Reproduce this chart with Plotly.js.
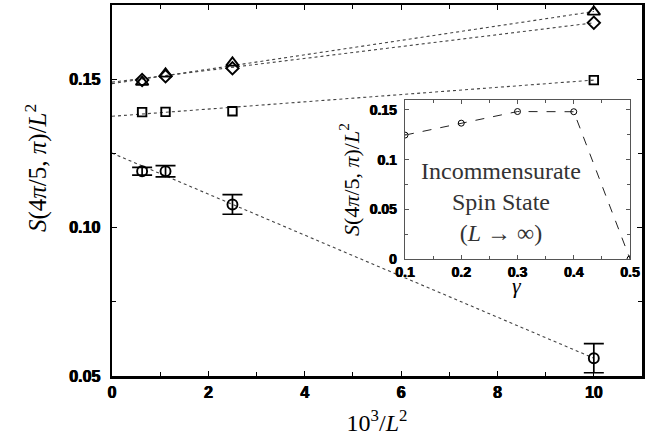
<!DOCTYPE html>
<html>
<head>
<meta charset="utf-8">
<script src="https://cdn.plot.ly/plotly-3.0.1.min.js"></script>
<style>html,body{margin:0;padding:0;background:#fff}#chart{width:654px;height:438px}</style>
</head>
<body>
<div id="chart"></div>
<script>
// ---- data ----
const invL2 = [0.625, 1.111, 2.5, 10];           // 10^3 / L^2  (L = 40, 30, 20, 10)
const triY = [0.1490, 0.1518, 0.1555, 0.1727];
const diaY = [0.1497, 0.1510, 0.1537, 0.1690];
const sqY  = [0.1389, 0.1390, 0.1392, 0.1497];
const cirY = [0.1190, 0.1190, 0.1078, 0.0560];
const cirErr = [0.0013, 0.0019, 0.0033, 0.0049];

const fitX = [0, 10];
const fitTri = [0.1485, 0.1728];
const fitDia = [0.1490, 0.1690];
const fitSq  = [0.1375, 0.1497];
const fitCir = [0.1251, 0.0560];

const gamma = [0.1, 0.2, 0.3, 0.4, 0.5];
const sInf  = [0.1247, 0.1367, 0.1484, 0.1482, 0.0];

// tick labels
const xTickVals = [0, 2, 4, 6, 8, 10];
const xTickText = ['0', '2', '4', '6', '8', '10'];
const yTickVals = [0.05, 0.10, 0.15];
const yTickText = ['0.05', '0.10', '0.15'];
const x2TickVals = [0.1, 0.2, 0.3, 0.4, 0.5];
const x2TickText = ['0.1', '0.2', '0.3', '0.4', '0.5'];
const y2TickVals = [0, 0.05, 0.1, 0.15];
const y2TickText = ['0', '0.05', '0.1', '0.15'];

// inset caption
const caption = 'Incommensurate<br>Spin State<br>(<i>L</i> → ∞)';

const bold = a => a.map(s => '<b>' + s + '</b>');

// ---- traces ----
const fitLine = {color: '#444', width: 1.1, dash: 'dot'};
const mk = (sym, size) => ({symbol: sym, size: size, color: '#000', line: {color: '#000', width: 1.9}});
const traces = [
  {x: fitX, y: fitTri, mode: 'lines', line: fitLine, hoverinfo: 'skip'},
  {x: fitX, y: fitDia, mode: 'lines', line: fitLine, hoverinfo: 'skip'},
  {x: fitX, y: fitSq,  mode: 'lines', line: fitLine, hoverinfo: 'skip'},
  {x: fitX, y: fitCir, mode: 'lines', line: fitLine, hoverinfo: 'skip'},
  {x: invL2, y: sqY, mode: 'markers', marker: mk('square-open', 8.5)},
  {x: invL2, y: diaY, mode: 'markers', marker: mk('diamond-open', 9.5)},
  {x: invL2, y: triY, mode: 'markers', marker: mk('triangle-up-open', 11)},
  {x: invL2, y: cirY, mode: 'markers', marker: mk('circle-open', 10),
   error_y: {type: 'data', array: cirErr, visible: true, color: '#000', thickness: 1.7, width: 10}},
  {x: gamma, y: sInf, xaxis: 'x2', yaxis: 'y2', mode: 'lines+markers',
   line: {color: '#222', width: 1, dash: 'dash'},
   marker: {symbol: 'circle-open', size: 6, color: '#000', line: {color: '#000', width: 1}}}
];

const thick = '0.5px 0 0 #000, -0.3px 0 0 #000';
const tickF = {family: 'Liberation Sans, Arial, sans-serif', size: 16, weight: 'bold', color: '#000', shadow: thick};
const tickF2 = {family: 'Liberation Sans, Arial, sans-serif', size: 14, weight: 'bold', color: '#000', shadow: thick};
const serif = 'Liberation Serif, Times New Roman, serif';
const ylab = '<i>S</i>(4<i>π</i>/5, <i>π</i>)/<i>L</i><sup>2</sup>';

const layout = {
  width: 654, height: 438,
  margin: {l: 112, r: 12, t: 5, b: 62},
  paper_bgcolor: '#fff', plot_bgcolor: '#fff',
  showlegend: false,
  xaxis: {
    range: [0, 11], tickmode: 'array', tickvals: xTickVals, ticktext: bold(xTickText),
    showgrid: false, zeroline: false,
    showline: true, linecolor: '#000', linewidth: 2.5, mirror: 'ticks',
    ticks: 'inside', ticklen: 5, tickwidth: 1, tickcolor: '#000',
    minor: {dtick: 1, tick0: 0, ticks: 'inside', ticklen: 4, tickcolor: '#000', showgrid: false},
    tickfont: tickF,
    title: {text: '10<sup>3</sup>/<i>L</i><sup>2</sup>', font: {family: serif, size: 24, color: '#000'}, standoff: 15}
  },
  yaxis: {
    range: [0.05, 0.175], tickmode: 'array', tickvals: yTickVals, ticktext: bold(yTickText),
    showgrid: false, zeroline: false,
    showline: true, linecolor: '#000', linewidth: 2.5, mirror: 'ticks',
    ticks: 'inside', ticklen: 5, tickwidth: 1, tickcolor: '#000',
    minor: {dtick: 0.025, tick0: 0.05, ticks: 'inside', ticklen: 4, tickcolor: '#000', showgrid: false},
    tickfont: tickF, ticklabelstandoff: 6
  },
  xaxis2: {
    domain: [0.5528, 0.9774], anchor: 'y2',
    range: [0.1, 0.5], tickmode: 'array', tickvals: x2TickVals, ticktext: bold(x2TickText),
    showgrid: false, zeroline: false,
    showline: true, linecolor: '#555', linewidth: 1.3, mirror: 'ticks',
    ticks: 'inside', ticklen: 4, tickwidth: 1, tickcolor: '#555',
    minor: {dtick: 0.05, tick0: 0.1, ticks: 'inside', ticklen: 3, tickcolor: '#555', showgrid: false},
    tickfont: tickF2, ticklabelstandoff: 0
  },
  yaxis2: {
    domain: [0.3154, 0.7439], anchor: 'x2',
    range: [0, 0.16], tickmode: 'array', tickvals: y2TickVals, ticktext: bold(y2TickText),
    showgrid: false, zeroline: false,
    showline: true, linecolor: '#555', linewidth: 1.3, mirror: 'ticks',
    ticks: 'inside', ticklen: 4, tickwidth: 1, tickcolor: '#555',
    minor: {dtick: 0.025, tick0: 0, ticks: 'inside', ticklen: 3, tickcolor: '#555', showgrid: false},
    tickfont: tickF2, ticklabelstandoff: 4,
    title: {text: ylab, font: {family: serif, size: 22, color: '#000'}, standoff: 4}
  },
  annotations: [
    {xref: 'paper', yref: 'paper', x: -0.1434, y: 0.5606, xanchor: 'center', yanchor: 'middle', showarrow: false,
     textangle: -90, text: ylab, font: {family: serif, size: 25, color: '#000'}},
    {xref: 'paper', yref: 'paper', x: 0.734, y: 0.469, xanchor: 'center', yanchor: 'middle', showarrow: false,
     text: caption, font: {family: serif, size: 24, color: '#333'}, align: 'center'},
    {xref: 'paper', yref: 'paper', x: 0.764, y: 0.244, xanchor: 'center', yanchor: 'middle', showarrow: false,
     text: '<i>γ</i>', font: {family: serif, size: 22, color: '#000'}}
  ]
};

Plotly.newPlot('chart', traces, layout, {displayModeBar: false, staticPlot: true});
</script>
</body>
</html>
